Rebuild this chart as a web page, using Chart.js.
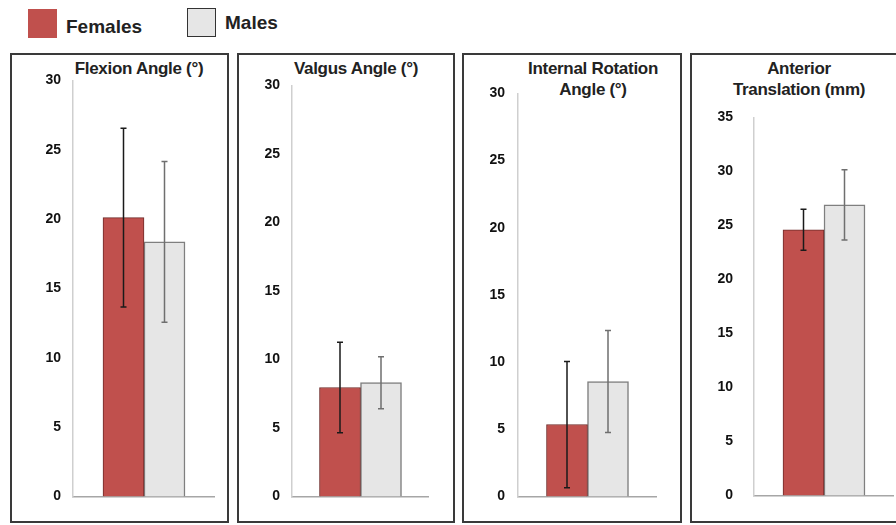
<!DOCTYPE html>
<html lang="en">

<head>
  <meta charset="UTF-8">
  <title>Females vs Males</title>
  <style>
    html, body {
      margin: 0;
      padding: 0;
      background: #fff;
      width: 896px;
      height: 525px;
      overflow: hidden;
      font-family: 'Liberation Sans', Arial, sans-serif;
    }

    .box {
      position: absolute;
      border: 2px solid #3a3a3a;
      box-sizing: border-box;
      background: #fff;
    }

    .plot {
      position: absolute;
    }

    .title {
      position: absolute;
      width: 220px;
      text-align: center;
      font-weight: bold;
      font-size: 17px;
      line-height: 21px;
      color: #222;
      letter-spacing: -0.3px;
    }

    .key {
      position: absolute;
      width: 29px;
      height: 29px;
      box-sizing: border-box;
    }

    .keytext {
      position: absolute;
      font-weight: bold;
      font-size: 19px;
      color: #222;
    }
  </style>
</head>

<body>
  <div class="key" style="left:28px;top:9px;background:#c0504d;"></div>
  <div class="keytext" style="left:66px;top:16px;">Females</div>
  <div class="key" style="left:187px;top:8px;background:#e6e6e6;border:1.5px solid #333;"></div>
  <div class="keytext" style="left:225px;top:12px;">Males</div>

  <script src="https://cdn.jsdelivr.net/npm/chart.js"></script>

  <script>
    // data
    const panelTitles = [
      ['Flexion Angle (°)'],
      ['Valgus Angle (°)'],
      ['Internal Rotation', 'Angle (°)'],
      ['Anterior', 'Translation (mm)']
    ];
    const seriesNames = ['Females', 'Males'];
    const femaleMeans = [20.1, 7.95, 5.35, 24.6];
    const femaleSD = [6.45, 3.3, 4.7, 1.9];
    const maleMeans = [18.35, 8.3, 8.55, 26.9];
    const maleSD = [5.8, 1.9, 3.8, 3.25];
    const axisMax = [30, 30, 30, 35];
    const tickStep = 5;

    // panel layout in page pixels
    const panels = [
      { box: [10, 53, 229, 523], axisX: 73, xEnd: 215, top: 80, zero: 496, tickPad: 12, titleX: 139, titleY: 58 },
      { box: [237, 53, 455, 523], axisX: 292, xEnd: 429, top: 85, zero: 496, tickPad: 12, titleX: 356, titleY: 58 },
      { box: [462, 53, 682, 523], axisX: 518, xEnd: 657, top: 93, zero: 496, tickPad: 13, titleX: 593, titleY: 58 },
      { box: [690, 53, 900, 523], axisX: 754, xEnd: 894, top: 117, zero: 495, tickPad: 21, titleX: 799, titleY: 58 }
    ];

    const PAD = 12;
    Chart.defaults.font.family = "'Liberation Sans', Arial, sans-serif";

    const errorBars = {
      id: 'errorBars',
      afterDatasetsDraw(chart) {
        const ctx = chart.ctx;
        const y = chart.scales.y;
        chart.data.datasets.forEach((ds, i) => {
          const meta = chart.getDatasetMeta(i);
          meta.data.forEach((bar, j) => {
            const m = ds.data[j];
            const sd = ds.sd[j];
            const top = y.getPixelForValue(m + sd);
            const bot = y.getPixelForValue(m - sd);
            ctx.save();
            ctx.strokeStyle = ds.errColor;
            ctx.lineWidth = 1.5;
            ctx.beginPath();
            ctx.moveTo(bar.x, top);
            ctx.lineTo(bar.x, bot);
            ctx.moveTo(bar.x - 3, top);
            ctx.lineTo(bar.x + 3, top);
            ctx.moveTo(bar.x - 3, bot);
            ctx.lineTo(bar.x + 3, bot);
            ctx.stroke();
            ctx.restore();
          });
        });
      }
    };

    panels.forEach((p, k) => {
      const box = document.createElement('div');
      box.className = 'box';
      box.style.left = p.box[0] + 'px';
      box.style.top = p.box[1] + 'px';
      box.style.width = (p.box[2] - p.box[0]) + 'px';
      box.style.height = (p.box[3] - p.box[1]) + 'px';
      document.body.appendChild(box);

      const title = document.createElement('div');
      title.className = 'title';
      title.style.left = (p.titleX - 110) + 'px';
      title.style.top = p.titleY + 'px';
      title.innerHTML = panelTitles[k].join('<br>');
      document.body.appendChild(title);

      const left = p.box[0] + 3;
      const wrap = document.createElement('div');
      wrap.className = 'plot';
      wrap.style.left = left + 'px';
      wrap.style.top = (p.top - PAD) + 'px';
      wrap.style.width = (p.xEnd - left) + 'px';
      wrap.style.height = (p.zero - p.top + 2 * PAD) + 'px';
      const cv = document.createElement('canvas');
      wrap.appendChild(cv);
      document.body.appendChild(wrap);

      const yWidth = p.axisX - left;

      const chart = new Chart(cv, {
        type: 'bar',
        data: {
          labels: [''],
          datasets: [
            {
              label: seriesNames[0],
              data: [femaleMeans[k]],
              sd: [femaleSD[k]],
              errColor: '#1a1a1a',
              backgroundColor: '#c0504d',
              borderColor: '#6e2b29',
              borderWidth: 1,
              barThickness: 41
            },
            {
              label: seriesNames[1],
              data: [maleMeans[k]],
              sd: [maleSD[k]],
              errColor: '#6f6f6f',
              backgroundColor: '#e6e6e6',
              borderColor: '#7f7f7f',
              borderWidth: 1.5,
              barThickness: 41
            }
          ]
        },
        options: {
          responsive: true,
          maintainAspectRatio: false,
          animation: false,
          layout: { padding: { top: PAD, bottom: PAD, left: 0, right: 0 } },
          plugins: {
            legend: { display: false },
            tooltip: { enabled: false },
            title: { display: false }
          },
          scales: {
            x: {
              grid: { display: false },
              ticks: { display: false },
              border: { color: '#a6a6a6', width: 1.5 },
              afterFit(s) { s.height = 0; }
            },
            y: {
              min: 0,
              max: axisMax[k],
              grid: { display: false, drawTicks: false },
              border: { color: '#cfcfcf', width: 1.5 },
              ticks: {
                stepSize: tickStep,
                padding: p.tickPad,
                color: '#111',
                font: { size: 14, weight: 'bold' }
              },
              afterFit(s) { s.width = yWidth; }
            }
          }
        },
        plugins: [errorBars]
      });

      // shift the canvas so the plot area lands where the figure has it
      const a = chart.chartArea;
      const newTop = p.top - a.top;
      const newHeight = (p.zero - p.top) + a.top + (chart.height - a.bottom);
      const newLeft = p.axisX - a.left;
      const newWidth = (p.xEnd - p.axisX) + a.left + (chart.width - a.right);
      wrap.style.top = newTop + 'px';
      wrap.style.height = newHeight + 'px';
      wrap.style.left = newLeft + 'px';
      wrap.style.width = newWidth + 'px';
      chart.resize();
    });
  </script>
</body>

</html>
